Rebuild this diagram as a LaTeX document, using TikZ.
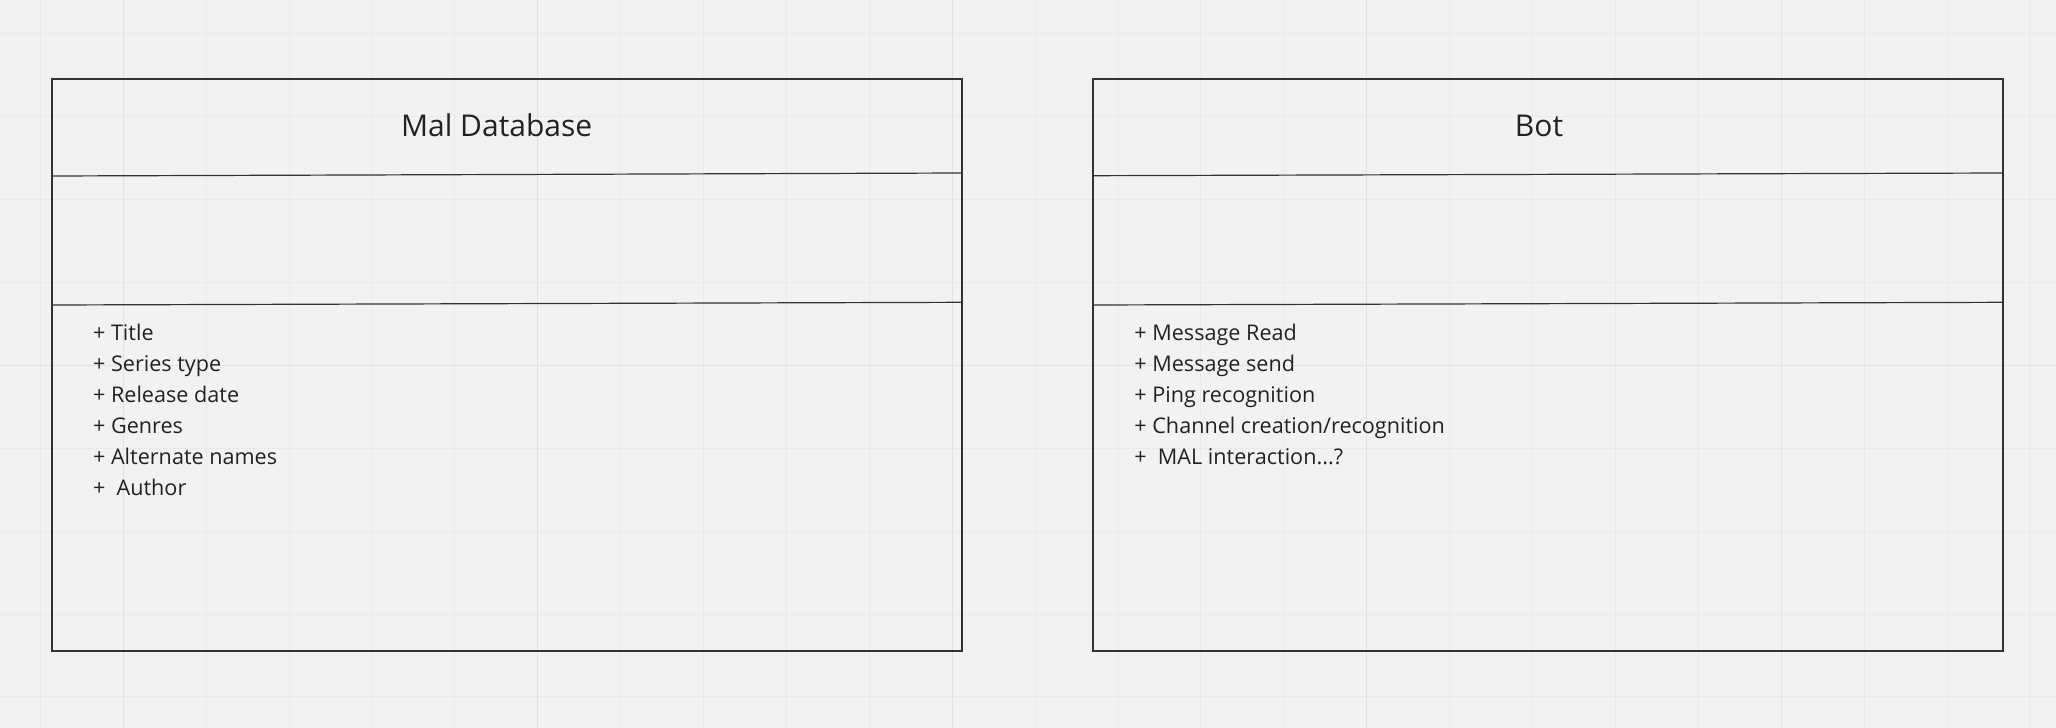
\documentclass[tikz,border=0pt]{standalone}
\usepackage{fontspec}
\setmainfont{Open Sans}
\usepackage{xcolor}
\usepackage{tikz}
\usetikzlibrary{backgrounds}
\definecolor{boardbg}{HTML}{F2F2F2}
\definecolor{gridthin}{HTML}{EAEAEA}
\definecolor{gridthick}{HTML}{E2E2E2}
\definecolor{inkline}{HTML}{333333}
\definecolor{inktext}{HTML}{222222}

\begin{document}
\begin{tikzpicture}
[x=0.5pt,y=-0.5pt,
umlbox/.style={rectangle,draw=inkline,line width=1pt,minimum width=455pt,minimum height=286pt,inner sep=0pt},
divider/.style={draw=inkline,line width=0.6pt},
classname/.style={anchor=base,text=inktext,inner sep=0pt,font=\fontsize{15pt}{18pt}\selectfont},
attr/.style={anchor=base west,text=inktext,inner sep=0pt,font=\fontsize{10.8pt}{13pt}\selectfont},
gridminor/.style={draw=gridthin,line width=0.5pt},
gridmajor/.style={draw=gridthick,line width=0.6pt}]

\fill[boardbg] (0,0) rectangle (2056,728);
\useasboundingbox (0,0) rectangle (2056,728);
\foreach \gx in {0,...,24} {\draw[gridminor] (40.3+82.9*\gx,0) -- (40.3+82.9*\gx,728);}
\foreach \gy in {0,...,8} {\draw[gridminor] (0,33.7+82.9*\gy) -- (2056,33.7+82.9*\gy);}
\foreach \gx in {0,...,4} {\draw[gridmajor] (123.2+414.5*\gx,0) -- (123.2+414.5*\gx,728);}
\draw[gridmajor] (0,365.3) -- (2056,365.3);

% left class
\node at (506.7,365) [umlbox] (maldb) {};
\node at (496.7,136.7) [classname] (maldbname) {Mal Database};
\coordinate (maldbA1) at (51.7,176);
\coordinate (maldbA2) at (961.7,173);
\coordinate (maldbB1) at (51.7,305);
\coordinate (maldbB2) at (961.7,302.3);
\draw [divider] (maldbA1) to (maldbA2);
\draw [divider] (maldbB1) to (maldbB2);
\node at (92.7,340.7) [attr] (malti) {+ Title};
\node at (92.7,371.7) [attr] (malst) {+ Series type};
\node at (92.7,402.7) [attr] (malrd) {+ Release date};
\node at (92.7,433.7) [attr] (malge) {+ Genres};
\node at (92.7,464.7) [attr] (malan) {+ Alternate names};
\node at (92.7,495.7) [attr] (malau) {+~ Author};

% right class
\node at (1547.85,365) [umlbox] (bot) {};
\node at (1539,136.7) [classname] (botname) {Bot};
\coordinate (botA1) at (1092.7,175.7);
\coordinate (botA2) at (2003,173);
\coordinate (botB1) at (1092.7,305);
\coordinate (botB2) at (2003,302.3);
\draw [divider] (botA1) to (botA2);
\draw [divider] (botB1) to (botB2);
\node at (1134,340.7) [attr] (botmr) {+ Message Read};
\node at (1134,371.7) [attr] (botms) {+ Message send};
\node at (1134,402.7) [attr] (botpr) {+ Ping recognition};
\node at (1134,433.7) [attr] (botcc) {+ Channel creation/recognition};
\node at (1134,464.7) [attr] (botmi) {+~ MAL interaction...?};
\end{tikzpicture}
\end{document}
